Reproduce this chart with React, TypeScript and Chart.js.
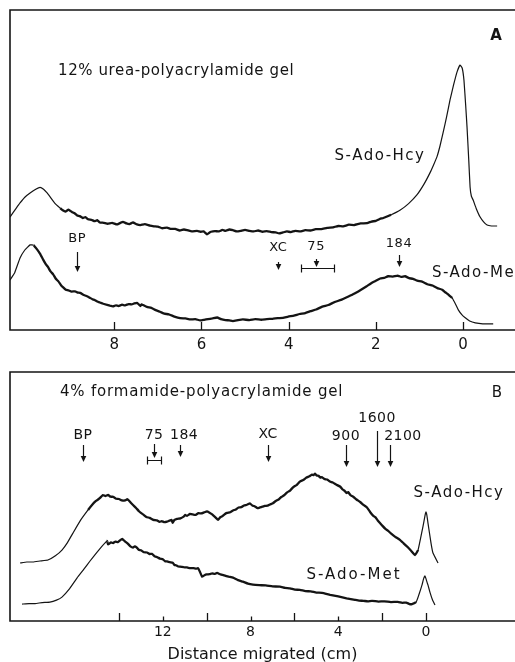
import React, { useEffect, useRef } from 'react';
import { Chart, registerables } from 'chart.js';
Chart.register(...registerables);

// ---------- Panel A : 12% urea-polyacrylamide gel ----------
const A_HCY: number[][] = [
  [10.39,35.3],[10.25,38.0],[10.16,39.7],[10.05,41.5],[9.93,42.8],[9.80,44.0],[9.70,44.6],[9.62,44.0],[9.55,43.0],[9.47,41.6],
  [9.36,39.6],[9.24,38.1],[9.18,37.4],[9.12,37.0],[9.05,37.6],[8.97,36.9],[8.91,36.5],[8.85,35.8],[8.79,35.6],[8.72,35.0],
  [8.66,35.3],[8.60,34.6],[8.52,34.4],[8.45,34.0],[8.39,34.3],[8.33,33.6],[8.24,33.5],[8.15,33.2],[8.05,33.5],[7.94,33.0],
  [7.87,33.4],[7.80,33.8],[7.72,33.3],[7.65,33.1],[7.57,33.6],[7.48,33.0],[7.40,32.8],[7.30,33.1],[7.18,32.6],[7.09,32.4],
  [7.00,32.3],[6.90,31.8],[6.79,32.0],[6.70,31.6],[6.60,31.6],[6.50,31.1],[6.40,31.4],[6.33,31.2],[6.22,30.8],[6.10,31.0],
  [6.02,30.7],[5.95,30.8],[5.87,29.9],[5.82,30.4],[5.78,30.7],[5.69,30.9],[5.60,30.8],[5.52,31.3],[5.45,31.0],[5.36,31.4],
  [5.28,31.2],[5.19,30.8],[5.10,31.0],[5.00,31.3],[4.90,31.0],[4.80,30.8],[4.70,31.1],[4.60,30.7],[4.50,30.9],[4.40,30.6],
  [4.30,30.5],[4.22,30.2],[4.13,30.5],[4.04,30.8],[3.95,30.6],[3.85,31.0],[3.74,30.8],[3.62,31.2],[3.50,31.1],[3.38,31.5],
  [3.25,31.5],[3.12,31.9],[2.98,32.1],[2.86,32.5],[2.75,32.4],[2.62,32.9],[2.50,32.8],[2.35,33.3],[2.20,33.4],[2.10,33.9],
  [2.00,34.1],[1.91,34.7],[1.83,35.0],[1.65,36.0],[1.44,37.5],[1.25,39.5],[1.06,42.2],[0.90,45.5],[0.76,49.1],[0.68,51.5],
  [0.60,54.1],[0.53,57.5],[0.46,61.6],[0.38,66.5],[0.30,71.9],[0.22,76.5],[0.14,80.6],[0.07,82.8],[0.02,81.8],[-0.02,78.0],
  [-0.06,70.0],[-0.09,63.4],[-0.13,53.0],[-0.16,44.7],[-0.19,41.8],[-0.23,40.6],[-0.30,38.0],[-0.39,35.3],[-0.47,33.8],
  [-0.55,32.8],[-0.65,32.5],[-0.78,32.5],
];
const A_MET: number[][] = [
  [10.39,15.6],[10.28,18.0],[10.16,22.5],[10.05,25.0],[9.93,26.6],[9.85,26.5],[9.77,25.2],[9.70,23.8],[9.63,22.0],[9.57,20.6],
  [9.52,19.7],[9.46,18.3],[9.40,17.4],[9.34,16.0],[9.28,15.2],[9.22,14.0],[9.17,13.3],[9.11,12.6],[9.05,12.4],[8.98,12.0],
  [8.90,12.1],[8.84,11.7],[8.78,11.6],[8.71,11.0],[8.65,10.7],[8.60,10.4],[8.56,10.1],[8.50,9.6],[8.45,9.4],[8.39,8.9],
  [8.33,8.6],[8.25,8.2],[8.18,7.9],[8.10,7.6],[8.03,7.4],[7.96,7.7],[7.90,7.5],[7.82,7.9],[7.75,7.7],[7.67,8.1],
  [7.60,8.0],[7.54,8.3],[7.48,8.5],[7.43,7.9],[7.40,7.5],[7.37,8.0],[7.34,7.8],[7.25,7.2],[7.15,6.9],[7.05,6.2],
  [6.95,5.7],[6.85,5.1],[6.75,4.9],[6.62,4.2],[6.49,3.7],[6.37,3.6],[6.25,3.3],[6.14,3.4],[6.03,3.0],[5.94,3.2],
  [5.85,3.4],[5.75,3.6],[5.64,3.9],[5.55,3.4],[5.45,3.1],[5.36,3.0],[5.28,2.8],[5.16,3.1],[5.05,3.3],[4.90,3.1],
  [4.77,3.4],[4.63,3.2],[4.50,3.4],[4.37,3.5],[4.25,3.7],[4.13,3.8],[4.01,4.2],[3.88,4.5],[3.75,5.0],[3.62,5.3],
  [3.50,5.9],[3.37,6.4],[3.23,7.3],[3.09,7.8],[2.95,8.7],[2.80,9.4],[2.64,10.4],[2.50,11.3],[2.35,12.5],[2.22,13.6],
  [2.09,14.8],[2.00,15.4],[1.90,16.1],[1.81,16.3],[1.72,16.8],[1.61,16.7],[1.50,17.0],[1.42,16.6],[1.33,16.8],[1.24,16.2],
  [1.15,16.0],[1.05,15.4],[0.94,15.1],[0.82,14.3],[0.70,13.9],[0.59,13.1],[0.48,12.6],[0.41,11.8],[0.35,11.2],[0.30,10.6],
  [0.25,10.0],[0.17,8.0],[0.11,6.3],[0.03,4.8],[-0.05,3.8],[-0.15,2.8],[-0.28,2.2],[-0.45,1.9],[-0.69,1.9],
];
const A_TICKS = [0, 2, 4, 6, 8];
const A_MARKERS = [
  { label: 'BP', x: 8.85 },
  { label: 'XC', x: 4.24 },
  { label: '75', x: 3.37, range: [3.72, 2.96] },
  { label: '184', x: 1.47 },
];

// ---------- Panel B : 4% formamide-polyacrylamide gel ----------
const B_HCY: number[][] = [
  [18.51,23.3],[18.20,23.7],[17.92,23.7],[17.60,24.1],[17.24,24.5],[16.90,26.2],[16.60,28.5],[16.35,31.5],[16.10,35.3],[15.75,40.5],
  [15.41,44.6],[15.23,46.6],[15.05,48.2],[14.89,49.2],[14.73,50.6],[14.62,50.2],[14.50,50.6],[14.38,49.9],[14.27,49.9],[14.13,49.1],
  [14.00,49.0],[13.86,48.4],[13.73,48.4],[13.62,48.9],[13.55,48.4],[13.45,47.4],[13.36,46.6],[13.22,45.4],[13.10,44.2],[13.00,43.4],
  [12.90,42.8],[12.75,41.8],[12.60,41.4],[12.43,40.6],[12.27,40.4],[12.15,39.8],[12.05,40.1],[11.93,39.7],[11.81,39.9],[11.70,40.3],
  [11.60,40.6],[11.55,39.4],[11.48,40.5],[11.35,41.0],[11.20,41.2],[11.05,41.9],[10.98,42.6],[10.90,42.2],[10.76,43.0],[10.63,42.8],
  [10.50,42.6],[10.38,43.3],[10.25,43.2],[10.12,43.6],[9.99,44.0],[9.87,43.5],[9.75,42.8],[9.60,41.6],[9.48,40.6],[9.39,41.6],
  [9.30,42.0],[9.18,42.9],[9.07,43.4],[8.93,43.7],[8.80,44.4],[8.67,44.8],[8.55,45.6],[8.42,45.7],[8.30,46.4],[8.16,46.7],
  [8.03,47.2],[7.92,46.4],[7.80,46.0],[7.68,45.3],[7.57,45.6],[7.46,45.9],[7.35,46.2],[7.22,46.3],[7.11,46.8],[6.98,47.3],
  [6.85,48.2],[6.72,48.8],[6.60,49.8],[6.47,50.5],[6.34,51.6],[6.20,52.4],[6.05,53.8],[5.90,54.6],[5.75,56.0],[5.60,56.6],
  [5.45,57.6],[5.32,58.1],[5.20,58.8],[5.12,58.6],[5.06,59.2],[4.98,58.4],[4.90,58.3],[4.82,57.6],[4.75,57.8],[4.63,57.0],
  [4.51,56.8],[4.38,56.0],[4.25,55.6],[4.10,54.8],[3.92,54.0],[3.80,52.8],[3.70,52.2],[3.62,51.4],[3.55,51.8],[3.45,50.6],
  [3.33,50.0],[3.17,48.8],[3.00,47.8],[2.85,46.6],[2.69,45.6],[2.55,43.8],[2.40,42.2],[2.30,41.6],[2.20,40.4],[2.08,39.2],
  [1.96,38.0],[1.85,37.0],[1.75,36.4],[1.60,35.2],[1.40,33.8],[1.19,32.6],[1.02,31.2],[0.85,29.8],[0.68,28.2],[0.50,26.5],
  [0.36,28.5],[0.14,37.8],[0.04,42.5],[0.00,43.8],[-0.04,42.5],[-0.09,39.4],[-0.23,31.3],[-0.32,27.3],[-0.55,23.3],
];
const B_MET: number[][] = [
  [18.42,6.8],[18.10,7.0],[17.83,7.0],[17.50,7.4],[17.15,7.6],[16.85,8.4],[16.60,9.6],[16.25,13.0],[15.91,17.3],[15.60,20.8],
  [15.32,24.1],[14.95,28.2],[14.55,32.1],[14.50,30.8],[14.45,31.0],[14.36,31.6],[14.27,31.3],[14.16,31.9],[14.05,31.7],[13.95,32.4],
  [13.86,33.0],[13.73,32.0],[13.60,31.1],[13.48,30.0],[13.36,29.5],[13.28,30.0],[13.20,29.6],[13.10,28.6],[13.00,28.4],[12.86,27.6],
  [12.72,27.5],[12.60,26.9],[12.50,27.0],[12.38,26.0],[12.25,25.6],[12.12,25.0],[12.00,24.8],[11.90,24.0],[11.81,23.9],[11.68,23.6],
  [11.55,23.4],[11.47,22.5],[11.40,22.4],[11.30,21.9],[11.22,21.8],[11.05,21.6],[10.90,21.5],[10.75,21.2],[10.60,21.2],[10.48,21.0],
  [10.40,21.2],[10.30,19.6],[10.21,17.8],[10.10,18.4],[10.00,18.7],[9.87,18.8],[9.75,19.1],[9.64,18.9],[9.53,19.3],[9.37,18.7],
  [9.20,18.3],[9.00,17.8],[8.80,17.4],[8.57,16.4],[8.35,15.8],[8.12,15.0],[7.89,14.6],[7.60,14.4],[7.30,14.3],[7.00,13.9],
  [6.66,13.8],[6.43,13.3],[6.20,13.1],[5.98,12.6],[5.75,12.5],[5.50,12.0],[5.25,11.9],[5.00,11.4],[4.74,11.3],[4.37,10.5],
  [4.00,9.9],[3.62,9.1],[3.24,8.5],[3.05,8.2],[2.85,8.1],[2.65,7.9],[2.46,8.1],[2.18,7.8],[1.90,7.9],[1.60,7.6],
  [1.28,7.7],[1.08,7.3],[0.90,7.4],[0.75,6.8],[0.64,6.8],[0.45,7.6],[0.36,9.6],[0.25,12.5],[0.18,14.5],[0.10,17.2],
  [0.05,18.1],[0.00,17.0],[-0.05,15.5],[-0.09,14.5],[-0.18,11.6],[-0.30,8.4],[-0.41,6.4],
];
const B_TICKS = [0, 2, 4, 6, 8, 10, 12, 14];
const B_TICK_LABELS = [0, 4, 8, 12];
const B_LONG_TICKS = [0, 2, 6, 10, 14];
const B_MARKERS = [
  { label: 'BP', x: 15.64 },
  { label: '75', x: 12.4, range: [12.72, 12.08] },
  { label: '184', x: 11.2, labelX: 11.03 },
  { label: 'XC', x: 7.2 },
  { label: '900', x: 3.65 },
  { label: '1600', x: 2.23 },
  { label: '2100', x: 1.64, labelX: 1.05 },
];

// ---------- layout (page pixels) ----------
const FONT = '"DejaVu Sans", sans-serif';
const INK = '#141414';

type Layout = { ly: number; y0: number; y1: number; by?: number };
const A_MARKER_LAYOUT: Record<string, Layout> = {
  BP: { ly: 239, y0: 252, y1: 272 },
  XC: { ly: 248, y0: 262, y1: 270 },
  '75': { ly: 247, y0: 259, y1: 267, by: 268 },
  '184': { ly: 244, y0: 255, y1: 267 },
};
const B_MARKER_LAYOUT: Record<string, Layout> = {
  BP: { ly: 435, y0: 445, y1: 462 },
  '75': { ly: 435, y0: 444, y1: 458, by: 460 },
  '184': { ly: 435, y0: 445, y1: 457 },
  XC: { ly: 434, y0: 445, y1: 462 },
  '900': { ly: 436, y0: 445, y1: 467 },
  '1600': { ly: 418, y0: 431, y1: 467 },
  '2100': { ly: 436, y0: 445, y1: 467 },
};

type TextItem = { text: string; x: number; y: number; size: number; align: CanvasTextAlign; bold?: boolean; spacing?: number };
const A_TEXTS: TextItem[] = [
  { text: '12% urea-polyacrylamide gel', x: 58, y: 71, size: 15, align: 'left', spacing: 0.6 },
  { text: 'A', x: 496, y: 36, size: 15, align: 'center', bold: true },
  { text: 'S-Ado-Hcy', x: 380, y: 156, size: 15, align: 'center', spacing: 1.5 },
  { text: 'S-Ado-Met', x: 432, y: 273, size: 15, align: 'left', spacing: 1.5 },
];
const B_TEXTS: TextItem[] = [
  { text: '4% formamide-polyacrylamide gel', x: 60, y: 392, size: 15, align: 'left', spacing: 0.8 },
  { text: 'B', x: 497, y: 393, size: 15, align: 'center' },
  { text: 'S-Ado-Hcy', x: 459, y: 493, size: 15, align: 'center', spacing: 1.5 },
  { text: 'S-Ado-Met', x: 354, y: 575, size: 15, align: 'center', spacing: 2 },
];

type PanelSpec = {
  top: number;
  texts: TextItem[];
  markers: { label: string; x: number; labelX?: number; range?: number[] }[];
  layout: Record<string, Layout>;
  markerSize: number;
  ticks: number[];
  tickLen: (v: number) => number;
};

function overlayPlugin(spec: PanelSpec) {
  return {
    id: 'overlay',
    afterDraw(chart: any) {
      const { ctx, chartArea } = chart;
      const xs = chart.scales.x;
      const off = spec.top;
      ctx.save();
      ctx.strokeStyle = INK;
      ctx.fillStyle = INK;
      // frame: top, left, bottom (right edge lies outside the page)
      ctx.lineWidth = 1.6;
      ctx.beginPath();
      ctx.moveTo(chartArea.right + 2, chartArea.top);
      ctx.lineTo(chartArea.left, chartArea.top);
      ctx.lineTo(chartArea.left, chartArea.bottom);
      ctx.lineTo(chartArea.right + 2, chartArea.bottom);
      ctx.stroke();
      // inward ticks
      ctx.lineWidth = 1.3;
      for (const v of spec.ticks) {
        const px = Math.round(xs.getPixelForValue(v)) + 0.5;
        ctx.beginPath();
        ctx.moveTo(px, chartArea.bottom);
        ctx.lineTo(px, chartArea.bottom - spec.tickLen(v));
        ctx.stroke();
      }
      // markers
      ctx.textBaseline = 'middle';
      ctx.textAlign = 'center';
      ctx.font = `${spec.markerSize}px ${FONT}`;
      (ctx as any).letterSpacing = '0.5px';
      for (const m of spec.markers) {
        const L = spec.layout[m.label];
        const px = Math.round(xs.getPixelForValue(m.x)) + 0.5;
        const lx = xs.getPixelForValue(m.labelX ?? m.x);
        ctx.fillText(m.label, lx, L.ly - off);
        ctx.lineWidth = 1.2;
        ctx.beginPath();
        ctx.moveTo(px, L.y0 - off);
        ctx.lineTo(px, L.y1 - off - 4);
        ctx.stroke();
        ctx.beginPath();
        ctx.moveTo(px - 2.8, L.y1 - off - 6);
        ctx.lineTo(px + 2.8, L.y1 - off - 6);
        ctx.lineTo(px, L.y1 - off);
        ctx.closePath();
        ctx.fill();
        if (m.range && L.by !== undefined) {
          const x1 = Math.round(xs.getPixelForValue(m.range[0])) + 0.5;
          const x2 = Math.round(xs.getPixelForValue(m.range[1])) + 0.5;
          const by = Math.round(L.by - off) + 0.5;
          ctx.beginPath();
          ctx.moveTo(x1, by); ctx.lineTo(x2, by);
          ctx.moveTo(x1, by - 4); ctx.lineTo(x1, by + 4);
          ctx.moveTo(x2, by - 4); ctx.lineTo(x2, by + 4);
          ctx.stroke();
        }
      }
      // texts
      for (const t of spec.texts) {
        ctx.font = `${t.bold ? 'bold ' : ''}${t.size}px ${FONT}`;
        (ctx as any).letterSpacing = `${t.spacing ?? 0}px`;
        ctx.textAlign = t.align;
        ctx.fillText(t.text, t.x, t.y - off);
      }
      ctx.restore();
    },
  };
}

function lineDataset(points: number[][], thick: [number, number]) {
  return {
    data: points.map(([x, y]) => ({ x, y })),
    borderColor: INK,
    borderWidth: 1.2,
    pointRadius: 0,
    tension: 0.1,
    fill: false,
    borderJoinStyle: 'round',
    segment: {
      borderWidth: (c: any) => {
        const x = c.p0.parsed.x;
        return x <= thick[0] && x >= thick[1] ? 2.3 : 1.2;
      },
    },
  };
}

function makeConfig(opts: {
  datasets: any[];
  min: number; max: number;
  padTop: number; axisHeight: number;
  ticks: number[];
  tickLabel: (v: number) => string;
  tickSize: number; tickPad: number;
  title?: string;
  spec: PanelSpec;
}): any {
  return {
    type: 'line',
    data: { datasets: opts.datasets },
    options: {
      responsive: false,
      animation: false,
      devicePixelRatio: 1,
      layout: { padding: { left: 10, top: opts.padTop, right: 0, bottom: 0 } },
      plugins: { legend: { display: false }, tooltip: { enabled: false }, title: { display: false } },
      scales: {
        x: {
          type: 'linear',
          reverse: true,
          min: opts.min,
          max: opts.max,
          grid: { display: false, drawTicks: false },
          border: { display: false },
          ticks: {
            autoSkip: false,
            maxRotation: 0,
            padding: opts.tickPad,
            color: INK,
            font: { family: FONT, size: opts.tickSize },
            callback: (v: any) => opts.tickLabel(Number(v)),
          },
          title: opts.title
            ? { display: true, text: opts.title, color: INK, font: { family: FONT, size: 16 }, padding: { top: 0, bottom: 1 } }
            : { display: false },
          afterBuildTicks: (s: any) => { s.ticks = opts.ticks.map((v) => ({ value: v })); },
          afterFit: (s: any) => { s.height = opts.axisHeight; },
        },
        y: { display: false, min: 0, max: 100 },
      },
    },
    plugins: [overlayPlugin(opts.spec)],
  };
}

export default function App() {
  const refA = useRef<HTMLCanvasElement>(null);
  const refB = useRef<HTMLCanvasElement>(null);

  useEffect(() => {
    const specA: PanelSpec = {
      top: 0, texts: A_TEXTS, markers: A_MARKERS, layout: A_MARKER_LAYOUT, markerSize: 13,
      ticks: A_TICKS, tickLen: () => 8,
    };
    const specB: PanelSpec = {
      top: 360, texts: B_TEXTS, markers: B_MARKERS, layout: B_MARKER_LAYOUT, markerSize: 14,
      ticks: B_TICKS, tickLen: (v) => (B_LONG_TICKS.includes(v) ? 8 : 4.5),
    };
    const a = new Chart(refA.current!, makeConfig({
      datasets: [lineDataset(A_HCY, [9.25, 1.8]), lineDataset(A_MET, [9.9, 0.3])],
      min: -1.19, max: 10.39, padTop: 10, axisHeight: 30,
      ticks: A_TICKS, tickLabel: (v) => String(v), tickSize: 15, tickPad: 6,
      spec: specA,
    }));
    const b = new Chart(refB.current!, makeConfig({
      datasets: [lineDataset(B_HCY, [15.45, 0.5]), lineDataset(B_MET, [14.6, 0.6])],
      min: -4.06, max: 18.97, padTop: 12, axisHeight: 44,
      ticks: B_TICKS, tickLabel: (v) => (B_TICK_LABELS.includes(v) ? String(v) : ''), tickSize: 14, tickPad: 3,
      title: 'Distance migrated (cm)',
      spec: specB,
    }));
    return () => { a.destroy(); b.destroy(); };
  }, []);

  return (
    <div style={{ position: 'absolute', left: 0, top: 0, width: 515, height: 662, overflow: 'hidden', background: '#fff' }}>
      <canvas ref={refA} width={515} height={360} style={{ position: 'absolute', left: 0, top: 0 }} />
      <canvas ref={refB} width={515} height={305} style={{ position: 'absolute', left: 0, top: 360 }} />
    </div>
  );
}
